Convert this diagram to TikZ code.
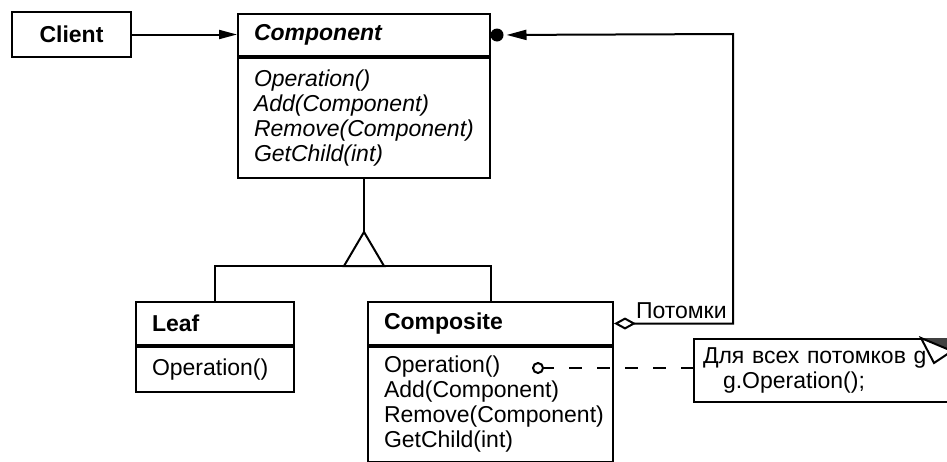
\documentclass[tikz,border=0pt]{standalone}
\usepackage{fontspec}
\setmainfont{Liberation Sans}
\usetikzlibrary{arrows.meta}

\begin{document}
\begin{tikzpicture}[x=0.5pt,y=-0.5pt,line width=1pt,
  font=\fontsize{11.5pt}{12.5pt}\selectfont,
  classbox/.style={draw,inner sep=0pt,inner xsep=8pt,align=left,anchor=north west},
  kidsdot/.style={circle,fill,inner sep=0pt,minimum size=6.5pt}]
\useasboundingbox (0,0) rectangle (947,461);

% client
\node[draw,inner sep=0pt,minimum width=59.5pt,minimum height=22.5pt] (client) at (71.5,34.5) {\bfseries Client};

% component
\node[classbox,text width=110pt,minimum height=21pt] (component) at (237,13) {\bfseries\itshape Component};
\node[classbox,text width=110pt,minimum height=60pt] (componentops) at (component.south west)
  {\itshape Operation()\\Add(Component)\\Remove(Component)\\GetChild(int)};

% leaf and composite
\node[classbox,text width=63pt,minimum height=21.5pt] (leaf) at (135,301) {\bfseries Leaf};
\node[classbox,text width=63pt,minimum height=22.5pt] (leafops) at (leaf.south west) {Operation()};
\node[classbox,text width=106.5pt,minimum height=21.5pt] (composite) at (367,301) {\bfseries Composite};
\node[classbox,text width=106.5pt,minimum height=57.5pt] (compositeops) at (composite.south west)
  {Operation()\\Add(Component)\\Remove(Component)\\GetChild(int)};

% note
\node[draw,anchor=north west,inner sep=0pt,inner xsep=4.5pt,text width=129.5pt,minimum height=31.5pt,align=left] (note) at (693,338)
  {Для всех потомков g\\\hspace*{10pt}g.Operation();};
\fill[black!75] (921,338) -- (952,338) -- (952,351) -- cycle;
\draw[fill=white] (921,338) -- (952,351) -- (934,363) -- cycle;

% client uses component
\draw[-{Triangle[length=9pt,width=4.5pt]}] (client) -- (client -| component.west);

% inheritance
\coordinate (apex) at ([yshift=-26.5pt]componentops.south);
\coordinate (fork) at ([yshift=-17pt]apex);
\draw (componentops.south) -- (apex);
\draw (leaf.north) |- (fork) -| (composite.north);
\draw (apex) -- ++(-20,34) -- ++(40,0) -- cycle;

% children
\node[kidsdot] (kids) at ([xshift=3pt]component.east) {};
\coordinate (turn) at (733,34);
\draw[{Diamond[open,length=11pt,width=6pt]}-{Triangle[length=10pt,width=5pt]},shorten >=1pt] (composite.east) -| (turn) -- (kids);
\node[anchor=base west,inner sep=0pt] (kidslabel) at (635,318) {Потомки};

% note link
\node[circle,draw,fill=white,inner sep=0pt,minimum size=5pt] (opdot) at (538,368) {};
\draw[dash pattern=on 6.5pt off 7.5pt,dash phase=1.5pt] (opdot) -- (opdot -| note.west);
\end{tikzpicture}
\end{document}
